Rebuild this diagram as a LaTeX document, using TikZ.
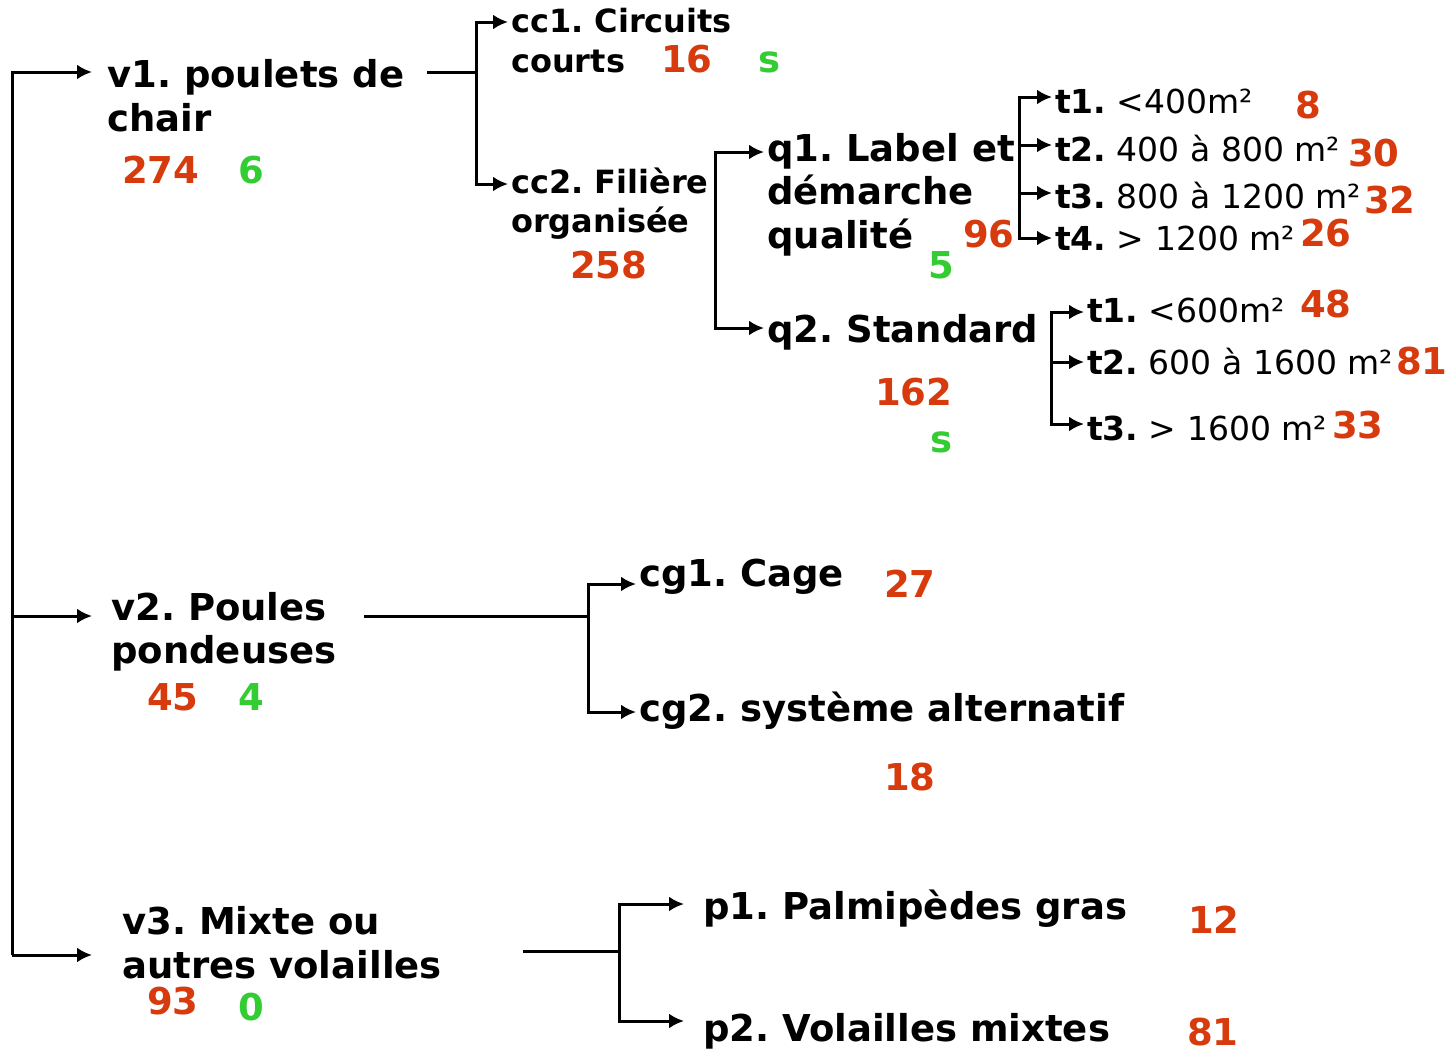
\documentclass[tikz,border=0pt]{standalone}
\usepackage{fontspec}
\setmainfont{DejaVu Sans}
\usetikzlibrary{arrows.meta}
\definecolor{nred}{RGB}{214,58,13}
\definecolor{ngreen}{RGB}{51,204,51}
\frenchspacing
\begin{document}
\begin{tikzpicture}[x=1pt,y=-1pt,
  big/.style={anchor=base west,inner sep=0,font=\fontsize{37}{44}\selectfont\bfseries},
  med/.style={anchor=base west,inner sep=0,font=\fontsize{32}{40}\selectfont\bfseries},
  tl/.style={anchor=base west,inner sep=0,font=\fontsize{33}{40}\selectfont},
  rn/.style={big,text=nred},
  gn/.style={big,text=ngreen},
  conn/.style={line width=3pt,line join=miter},
  arr/.style={conn,-{Latex[length=15pt,width=15pt]}}]
\useasboundingbox (0,0) rectangle (1451,1052);

% level 1
\node[big] (v1a) at (107,87) {v1. poulets de};
\node[big] (v1b) at (107,131) {chair};
\node[rn] (v1n) at (122,183) {274};
\node[gn] (v1g) at (238,183) {6};

\node[big] (v2a) at (111,620) {v2. Poules};
\node[big] (v2b) at (111,663) {pondeuses};
\node[rn] (v2n) at (147,710) {45};
\node[gn] (v2g) at (238,710) {4};

\node[big] (v3a) at (122,934) {v3. Mixte ou};
\node[big] (v3b) at (122,978) {autres volailles};
\node[rn] (v3n) at (147,1014) {93};
\node[gn] (v3g) at (238,1020) {0};

% cc
\node[med] (cc1a) at (511,32) {cc1. Circuits};
\node[med] (cc1b) at (511,72) {courts};
\node[rn] (cc1n) at (661,72) {16};
\node[gn] (cc1g) at (758,72) {s};

\node[med] (cc2a) at (511,193) {cc2. Filière};
\node[med] (cc2b) at (511,232) {organisée};
\node[rn] (cc2n) at (570,278) {258};

% q
\node[big] (q1a) at (767,161) {q1. Label et};
\node[big] (q1b) at (767,204) {démarche};
\node[big] (q1c) at (767,248) {qualité};
\node[rn] (q1n) at (963,247) {96};
\node[gn] (q1g) at (928,278) {5};

\node[big] (q2a) at (767,342) {q2. Standard};
\node[rn] (q2n) at (875,405) {162};
\node[gn] (q2g) at (930,452) {s};

% t under q1
\node[tl] (ta1) at (1055,113) {\textbf{t1.} <400m²};
\node[tl] (ta2) at (1055,161) {\textbf{t2.} 400 à 800 m²};
\node[tl] (ta3) at (1055,208) {\textbf{t3.} 800 à 1200 m²};
\node[tl] (ta4) at (1055,250) {\textbf{t4.} > 1200 m²};
\node[rn] (ta1n) at (1295,118) {8};
\node[rn] (ta2n) at (1348,166) {30};
\node[rn] (ta3n) at (1364,213) {32};
\node[rn] (ta4n) at (1300,246) {26};

% t under q2
\node[tl] (tb1) at (1087,322) {\textbf{t1.} <600m²};
\node[tl] (tb2) at (1087,374) {\textbf{t2.} 600 à 1600 m²};
\node[tl] (tb3) at (1087,440) {\textbf{t3.} > 1600 m²};
\node[rn] (tb1n) at (1300,317) {48};
\node[rn] (tb2n) at (1396,374) {81};
\node[rn] (tb3n) at (1332,438) {33};

% cg
\node[big] (cg1) at (639,586) {cg1. Cage};
\node[rn] (cg1n) at (884,597) {27};
\node[big] (cg2) at (639,721) {cg2. système alternatif};
\node[rn] (cg2n) at (884,790) {18};

% p
\node[big] (p1) at (703,919) {p1. Palmipèdes gras};
\node[rn] (p1n) at (1188,933) {12};
\node[big] (p2) at (703,1041) {p2. Volailles mixtes};
\node[rn] (p2n) at (1187,1045) {81};

% coordinates
\coordinate (r1) at (12,72);
\coordinate (r3) at (12,955);
\coordinate (r2) at (12,616);
\coordinate (e1) at (92,72);
\coordinate (e2) at (92,616);
\coordinate (e3) at (92,955);

\coordinate (v1o) at (427,72);
\coordinate (v1j) at (476,72);
\coordinate (ecc1) at (508,22);
\coordinate (ecc2) at (508,184);

\coordinate (qj) at (715,240);
\coordinate (eq1) at (764,152);
\coordinate (eq2) at (764,328);

\coordinate (taj) at (1019,170);
\coordinate (eta1) at (1052,97);
\coordinate (eta2) at (1052,145);
\coordinate (eta3) at (1052,193);
\coordinate (eta4) at (1052,238);

\coordinate (tbj) at (1051,370);
\coordinate (etb1) at (1084,312);
\coordinate (etb2) at (1084,362);
\coordinate (etb3) at (1084,424);

\coordinate (v2o) at (364,616);
\coordinate (v2j) at (588,616);
\coordinate (ecg1) at (636,584);
\coordinate (ecg2) at (636,712);

\coordinate (v3o) at (523,951);
\coordinate (v3j) at (619,951);
\coordinate (ep1) at (684,904);
\coordinate (ep2) at (684,1021);

% connectors
\draw[arr] (r3) -- (r1) -- (e1);
\draw[arr] (r2) -- (e2);
\draw[arr] (r3) -- (e3);

\draw[conn] (v1o) -- (v1j);
\draw[arr] (v1j) |- (ecc1);
\draw[arr] (v1j) |- (ecc2);

\draw[arr] (qj) |- (eq1);
\draw[arr] (qj) |- (eq2);

\draw[arr] (taj) |- (eta1);
\draw[arr] (taj) |- (eta2);
\draw[arr] (taj) |- (eta3);
\draw[arr] (taj) |- (eta4);

\draw[arr] (tbj) |- (etb1);
\draw[arr] (tbj) |- (etb2);
\draw[arr] (tbj) |- (etb3);

\draw[conn] (v2o) -- (v2j);
\draw[arr] (v2j) |- (ecg1);
\draw[arr] (v2j) |- (ecg2);

\draw[conn] (v3o) -- (v3j);
\draw[arr] (v3j) |- (ep1);
\draw[arr] (v3j) |- (ep2);
\end{tikzpicture}
\end{document}
